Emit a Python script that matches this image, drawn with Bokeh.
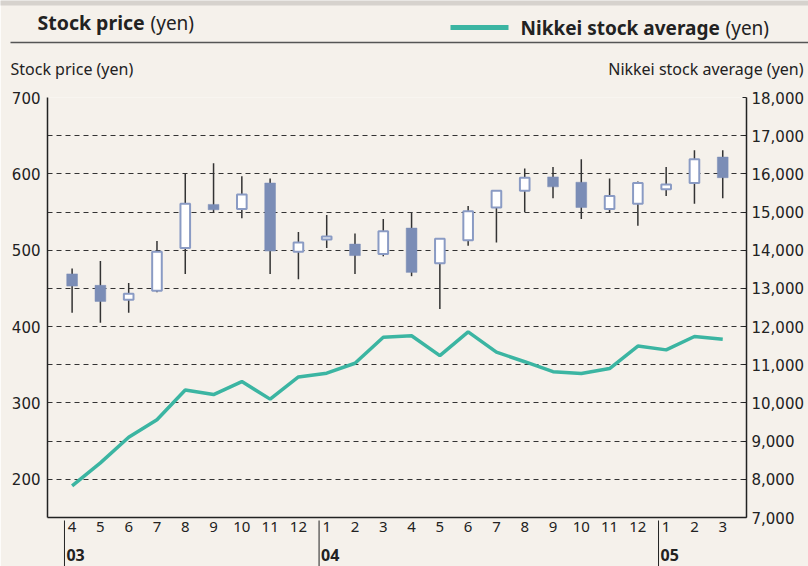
from bokeh.plotting import figure
from bokeh.models import Range1d, LinearAxis, FixedTicker, NumeralTickFormatter, ColumnDataSource
from bokeh.embed import file_html
from bokeh.resources import INLINE
from bokeh.core.properties import value

# ---------------- data ----------------
months = [4, 5, 6, 7, 8, 9, 10, 11, 12, 1, 2, 3, 4, 5, 6, 7, 8, 9, 10, 11, 12, 1, 2, 3]
years = ["03", "04", "05"]
year_start = [0, 9, 21]
opens  = [469, 454, 435, 447, 503, 560, 554, 588, 498, 514, 508, 495, 529, 483, 513, 556, 578, 596, 589, 554, 561, 580, 588, 622]
highs  = [476, 486, 457, 512, 600, 614, 597, 594, 524, 546, 522, 541, 550, 515, 558, 578, 607, 609, 619, 594, 590, 609, 631, 631]
lows   = [418, 405, 418, 445, 469, 550, 542, 469, 462, 503, 469, 492, 466, 423, 506, 510, 550, 568, 541, 550, 532, 571, 561, 568]
closes = [453, 433, 443, 498, 561, 553, 573, 499, 510, 518, 493, 525, 471, 515, 551, 578, 595, 583, 556, 571, 588, 586, 619, 595]
nikkei = [7830, 8430, 9100, 9560, 10340, 10220, 10560, 10100, 10680, 10780, 11040, 11720,
          11760, 11240, 11860, 11330, 11080, 10820, 10770, 10900, 11490, 11390, 11740, 11670]
left_ticks = [200, 300, 400, 500, 600, 700]
right_ticks = [7000, 8000, 9000, 10000, 11000, 12000, 13000, 14000, 15000, 16000, 17000, 18000]

BG = "#f5f1eb"
TEAL = "#3bb5a2"
UPLINE = "#8a9bc4"
DOWNFILL = "#7b8db6"
INK = "#222222"
LBL_FONT = "Noto Sans"
NUM_FONT = "DejaVu Sans"

W, H = 808, 566
FL, FR, FT, FB = 47, 746, 97, 517   # frame edges in canvas pixels

idx = list(range(len(months)))
up = [c >= o for o, c in zip(opens, closes)]
src_up = ColumnDataSource(dict(
    x=[i for i in idx if up[i]],
    top=[closes[i] for i in idx if up[i]],
    bottom=[opens[i] for i in idx if up[i]]))
src_dn = ColumnDataSource(dict(
    x=[i for i in idx if not up[i]],
    top=[opens[i] for i in idx if not up[i]],
    bottom=[closes[i] for i in idx if not up[i]]))
src_w = ColumnDataSource(dict(x=idx, high=highs, low=lows))

p = figure(width=W, height=H, x_range=Range1d(-0.87, 23.84), y_range=Range1d(150, 700),
           toolbar_location=None, output_backend="svg",
           min_border_left=FL, min_border_right=W - FR, min_border_top=FT, min_border_bottom=H - FB,
           background_fill_color=BG, border_fill_color=BG, outline_line_color=None)
# pixel-like ranges for page decorations (header, footer)
p.extra_x_ranges = {"px": Range1d(FL, FR)}
p.extra_y_ranges = {"nk": Range1d(7000, 18000), "py": Range1d(FB, FT)}

p.xgrid.visible = False
p.ygrid.ticker = FixedTicker(ticks=list(range(200, 701, 50)))
p.ygrid.grid_line_color = "#333333"
p.ygrid.grid_line_dash = "5 4"
p.ygrid.grid_line_width = 1

ya = p.yaxis[0]
ya.ticker = FixedTicker(ticks=left_ticks)
ya.major_tick_line_color = None
ya.minor_tick_line_color = None
ya.major_tick_out = 0
ya.major_tick_in = 0
ya.axis_line_color = INK
ya.axis_line_width = 1.5
ya.major_label_text_font = NUM_FONT
ya.major_label_text_font_size = "15px"
ya.major_label_text_color = INK
ya.major_label_standoff = 7

ra = LinearAxis(y_range_name="nk", ticker=FixedTicker(ticks=right_ticks),
                formatter=NumeralTickFormatter(format="0,0"))
ra.major_tick_in = 4
ra.major_tick_out = 0
ra.major_tick_line_color = INK
ra.minor_tick_line_color = None
ra.axis_line_color = INK
ra.axis_line_width = 1.5
ra.major_label_text_font = NUM_FONT
ra.major_label_text_font_size = "15px"
ra.major_label_text_color = INK
ra.major_label_standoff = 5
p.add_layout(ra, "right")

xa = p.xaxis[0]
xa.ticker = FixedTicker(ticks=idx)
xa.major_label_overrides = {i: str(m) for i, m in enumerate(months)}
xa.major_tick_line_color = None
xa.minor_tick_line_color = None
xa.major_tick_out = 0
xa.major_tick_in = 0
xa.axis_line_color = INK
xa.axis_line_width = 1.5
xa.major_label_text_font = LBL_FONT
xa.major_label_text_font_size = "15px"
xa.major_label_text_color = INK
xa.major_label_standoff = 4

# ---------------- candles and Nikkei line ----------------
p.segment(x0="x", y0="high", x1="x", y1="low", source=src_w, line_color="#333333", line_width=1.5)
p.vbar(x="x", top="top", bottom="bottom", width=0.34, source=src_up,
       fill_color="white", line_color=UPLINE, line_width=2)
p.vbar(x="x", top="top", bottom="bottom", width=0.38, source=src_dn,
       fill_color=DOWNFILL, line_color=DOWNFILL, line_width=0.5)
p.line(x=idx, y=nikkei, y_range_name="nk", line_color=TEAL, line_width=3.5)

# ---------------- header decorations ----------------
deco = dict(x_range_name="px", y_range_name="py", level="overlay")
p.quad(left=[0], right=[W], top=[0], bottom=[5], fill_color="#d6d2cd", line_color=None, **deco)
p.segment(x0=[10], y0=[42], x1=[W], y1=[42], line_color="#555555", line_width=1.5, **deco)
p.segment(x0=[450], y0=[27], x1=[508], y1=[27], line_color=TEAL, line_width=5, **deco)
p.text(x=[37], y=[22], text=["Stock price"], text_font=value(LBL_FONT), text_font_style="bold",
       text_font_size="19.5px", text_baseline="middle", text_color=INK, **deco)
p.text(x=[150], y=[22], text=["(yen)"], text_font=value(LBL_FONT),
       text_font_size="19px", text_baseline="middle", text_color=INK, **deco)
p.text(x=[520], y=[27], text=["Nikkei stock average"], text_font=value(LBL_FONT), text_font_style="bold",
       text_font_size="19px", text_baseline="middle", text_color=INK, **deco)
p.text(x=[725], y=[27], text=["(yen)"], text_font=value(LBL_FONT),
       text_font_size="19px", text_baseline="middle", text_color=INK, **deco)
p.text(x=[10], y=[68], text=["Stock price (yen)"], text_font=value(LBL_FONT),
       text_font_size="16px", text_baseline="middle", text_color=INK, **deco)
p.text(x=[803], y=[68], text=["Nikkei stock average (yen)"], text_font=value(LBL_FONT), text_align="right",
       text_font_size="16px", text_baseline="middle", text_color=INK, **deco)

# ---------------- year separators and labels ----------------
seps = [s - 0.27 for s in year_start]
yr = dict(y_range_name="py", level="overlay")
p.segment(x0=seps, y0=[520] * 3, x1=seps, y1=[H] * 3, line_color=INK, line_width=1, **yr)
p.text(x=seps, y=[554] * 3, text=years, x_offset=2, text_font=value(LBL_FONT), text_font_style="bold",
       text_font_size="16px", text_baseline="middle", text_color=INK, **yr)

open("out.html", "w").write(file_html(p, INLINE))
